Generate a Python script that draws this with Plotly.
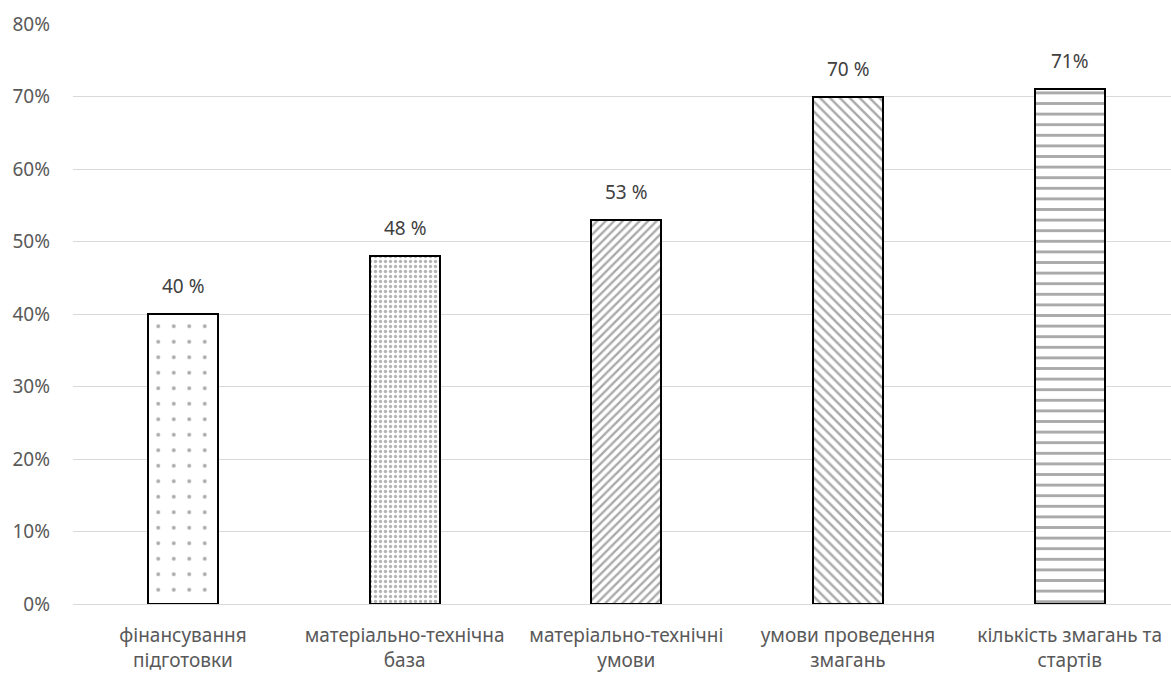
import plotly.graph_objects as go

categories = [
    "фінансування<br>підготовки",
    "матеріально-технічна<br>база",
    "матеріально-технічні<br>умови",
    "умови проведення<br>змагань",
    "кількість змагань та<br>стартів",
]
values = [40, 48, 53, 70, 71]
value_labels = ["40 %", "48 %", "53 %", "70 %", "71%"]
y_ticks = [0, 10, 20, 30, 40, 50, 60, 70, 80]

x_pos = list(range(len(categories)))

fig = go.Figure(
    go.Bar(
        x=x_pos,
        y=values,
        width=0.316,
        marker=dict(
            color="white",
            line=dict(color="black", width=2),
            pattern=dict(
                shape=[".", ".", "/", "\\", "-"],
                size=[15.5, 5, 6, 7, 10.6],
                solidity=[0.05, 0.35, 0.4, 0.35, 0.27],
                fgcolor=["#555555", "#6a6a6a", "#555555", "#555555", "#555555"],
                bgcolor="white",
                fillmode="overlay",
            ),
        ),
    )
)

# value labels sitting above each bar
for xi, v, lab in zip(x_pos, values, value_labels):
    fig.add_annotation(
        x=xi, y=v, text=lab, showarrow=False,
        yanchor="bottom", yshift=13,
        font=dict(size=19, color="#404040"),
    )

fig.update_layout(
    width=1171,
    height=675,
    margin=dict(l=73, r=0, t=24, b=71),
    paper_bgcolor="white",
    plot_bgcolor="white",
    showlegend=False,
    font=dict(family="Noto Sans", size=19, color="#595959"),
    bargap=0,
)

fig.update_xaxes(
    range=[-0.496, 4.457],
    tickmode="array",
    tickvals=x_pos,
    ticktext=categories,
    showgrid=False,
    showline=False,
    zeroline=False,
    ticks="",
    tickfont=dict(size=19, color="#595959"),
    ticklabelstandoff=18,
)

fig.update_yaxes(
    range=[0, 80],
    tickmode="array",
    tickvals=y_ticks,
    ticktext=[f"{v}%" for v in y_ticks],
    showgrid=True,
    gridcolor="#d9d9d9",
    gridwidth=1.3,
    zeroline=True,
    zerolinecolor="#d9d9d9",
    zerolinewidth=1.3,
    showline=False,
    ticks="",
    tickfont=dict(size=19, color="#595959"),
    ticklabelstandoff=22,
)

fig.write_html("out.html")
